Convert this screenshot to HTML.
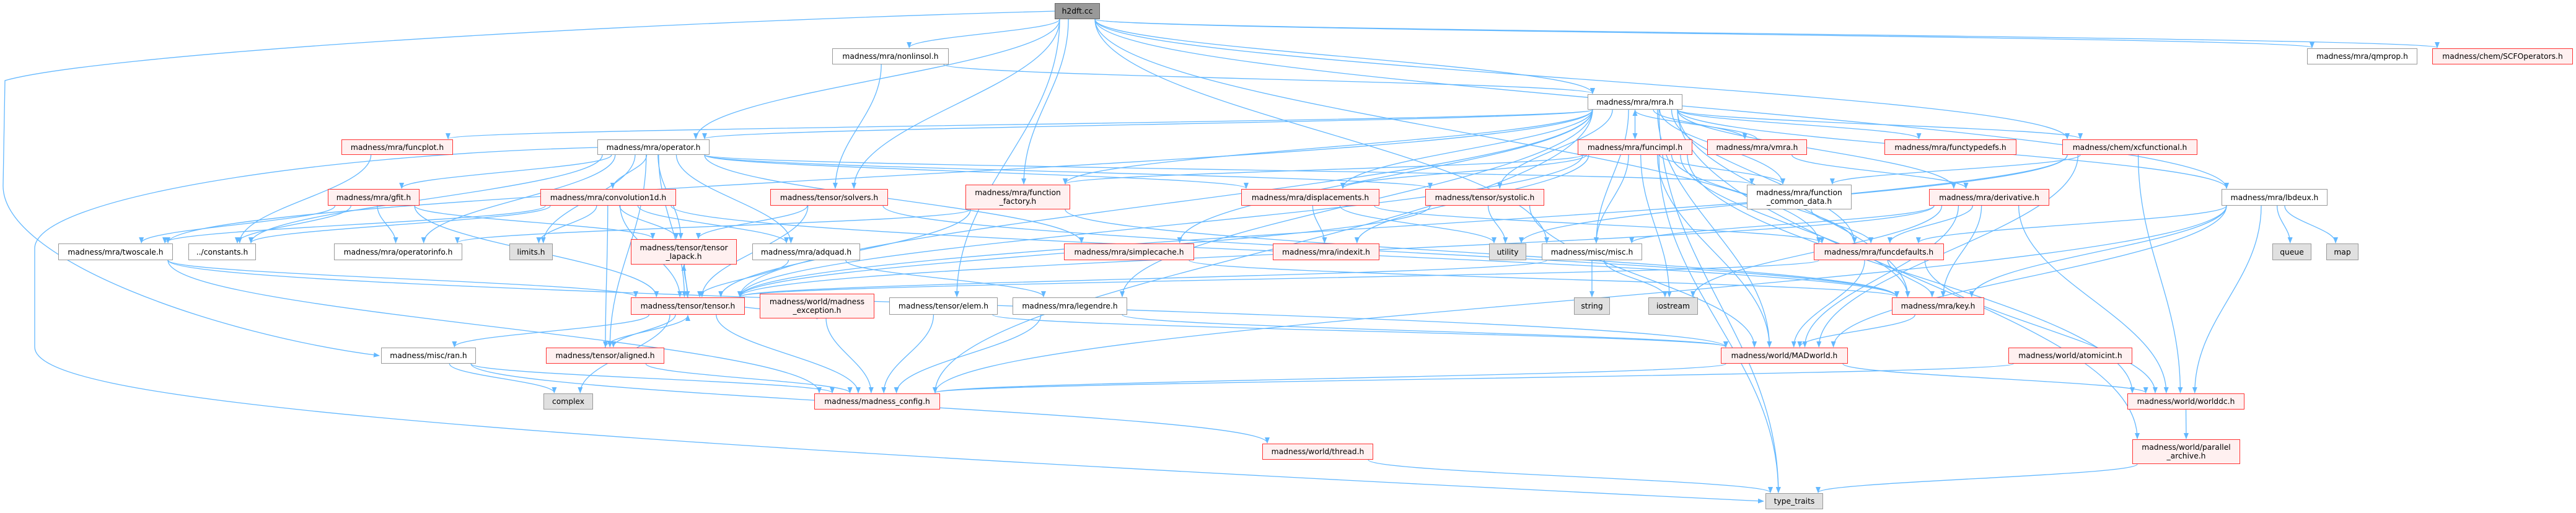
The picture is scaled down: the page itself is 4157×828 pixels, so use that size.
<!DOCTYPE html>
<html><head><meta charset="utf-8">
<style>
html,body{margin:0;padding:0;background:#fff;}
body{width:4157px;height:828px;position:relative;overflow:hidden;font-family:"DejaVu Sans","Liberation Sans",sans-serif;}
svg{position:absolute;left:0;top:0;}
.n{position:absolute;box-sizing:border-box;border:1.5px solid #999;background:#fff;color:#000;font-size:12.3px;display:flex;align-items:center;justify-content:center;text-align:center;line-height:14px;white-space:pre;}
.r{border-color:#f33;background:#fff0f0;}
.g{background:#e0e0e0;border-color:#999;}
.k{background:#999;border-color:#666;}
</style></head><body>
<svg id="s" width="4157" height="828" viewBox="0 0 4157 828">
<defs><marker id="a" markerWidth="10" markerHeight="8" refX="9" refY="4" orient="auto" markerUnits="userSpaceOnUse"><path d="M0,0 L10,4 L0,8 z" fill="#63b8ff"/></marker></defs>
<g id="e" fill="none" stroke="#63b8ff" stroke-width="1.3"></g>
</svg>
<div id="nodes"></div>
<script>
var N={
h2dft:[1702,1775,5,31,"h2dft.cc","k"],
nonlinsol:[1343,1531,78,104,"madness/mra/nonlinsol.h",""],
qmprop:[3723,3901,78,104,"madness/mra/qmprop.h",""],
scf:[3925,4152,78,104,"madness/chem/SCFOperators.h","r"],
mra:[2562,2715,152,177,"madness/mra/mra.h",""],
funcplot:[551,731,225,250,"madness/mra/funcplot.h","r"],
operator:[964,1145,225,250,"madness/mra/operator.h",""],
funcimpl:[2546,2731,225,250,"madness/mra/funcimpl.h","r"],
vmra:[2755,2916,225,250,"madness/mra/vmra.h","r"],
functypedefs:[3041,3254,225,250,"madness/mra/functypedefs.h","r"],
xcf:[3328,3546,225,250,"madness/chem/xcfunctional.h","r"],
gfit:[529,677,305,332,"madness/mra/gfit.h","r"],
conv:[872,1091,305,332,"madness/mra/convolution1d.h","r"],
solvers:[1243,1433,305,332,"madness/tensor/solvers.h","r"],
ff:[1558,1727,298,338,"madness/mra/function\n_factory.h","r"],
disp:[2003,2226,305,332,"madness/mra/displacements.h","r"],
systolic:[2300,2492,305,332,"madness/tensor/systolic.h","r"],
fcd:[2819,2988,298,338,"madness/mra/function\n_common_data.h",""],
deriv:[3113,3307,305,332,"madness/mra/derivative.h","r"],
lbdeux:[3585,3756,305,332,"madness/mra/lbdeux.h",""],
twoscale:[94,279,393,420,"madness/mra/twoscale.h",""],
constants:[304,413,393,420,"../constants.h",""],
opinfo:[539,746,393,420,"madness/mra/operatorinfo.h",""],
limits:[822,892,393,420,"limits.h","g"],
lapack:[1018,1189,386,427,"madness/tensor/tensor\n_lapack.h","r"],
adquad:[1214,1388,393,420,"madness/mra/adquad.h",""],
simplecache:[1717,1927,393,420,"madness/mra/simplecache.h","r"],
indexit:[2054,2226,393,420,"madness/mra/indexit.h","r"],
utility:[2403,2463,393,420,"utility","g"],
misc:[2488,2650,393,420,"madness/misc/misc.h",""],
funcdef:[2927,3137,393,420,"madness/mra/funcdefaults.h","r"],
queue:[3667,3730,393,420,"queue","g"],
map:[3754,3806,393,420,"map","g"],
tensor:[1018,1202,480,508,"madness/tensor/tensor.h","r"],
mexc:[1226,1411,474,514,"madness/world/madness\n_exception.h","r"],
elem:[1435,1610,480,508,"madness/tensor/elem.h",""],
legendre:[1634,1819,480,508,"madness/mra/legendre.h",""],
string:[2540,2598,480,508,"string","g"],
iostream:[2660,2740,480,508,"iostream","g"],
key:[3053,3202,480,508,"madness/mra/key.h","r"],
ran:[615,768,561,587,"madness/misc/ran.h",""],
aligned:[881,1072,561,587,"madness/tensor/aligned.h","r"],
madworld:[2777,2982,561,587,"madness/world/MADworld.h","r"],
atomic:[3241,3441,561,587,"madness/world/atomicint.h","r"],
complex:[877,957,635,661,"complex","g"],
config:[1314,1517,635,661,"madness/madness_config.h","r"],
worlddc:[3433,3622,635,661,"madness/world/worlddc.h","r"],
thread:[2037,2216,716,742,"madness/world/thread.h","r"],
parch:[3441,3615,709,749,"madness/world/parallel\n_archive.h","r"],
type_traits:[2849,2942,796,822,"type_traits","g"]
};
var E=[
["h2dft","nonlinsol"],["h2dft","mra"],["h2dft","qmprop"],["h2dft","scf"],["h2dft","operator"],["h2dft","solvers"],["h2dft","elem"],["h2dft","lbdeux"],["h2dft","misc"],["h2dft","xcf"],["h2dft","ff"],["h2dft","funcdef"],
["nonlinsol","mra"],["nonlinsol","solvers"],
["mra","funcplot"],["mra","operator"],["mra","twoscale"],["mra","ff"],["mra","tensor"],["mra","funcimpl"],["mra","vmra"],["mra","functypedefs"],["mra","xcf"],["mra","deriv"],["mra","lbdeux"],["mra","misc"],["mra","funcdef"],["mra","key"],["mra","legendre"],["mra","parch"],["mra","type_traits"],["mra","madworld"],["mra","fcd"],["mra","config"],["mra","disp"],["mra","systolic"],["mra","simplecache"],
["operator","conv"],["operator","gfit"],["operator","constants"],["operator","opinfo"],["operator","limits"],["operator","lapack"],["operator","adquad"],["operator","simplecache"],["operator","disp"],["operator","systolic"],["operator","fcd"],["operator","aligned"],["operator","tensor"],
["funcplot","constants"],
["gfit","twoscale"],["gfit","constants"],["gfit","opinfo"],["gfit","lapack"],["gfit","tensor"],
["conv","constants"],["conv","limits"],["conv","lapack"],["conv","adquad"],["conv","tensor"],["conv","aligned"],["conv","twoscale"],["conv","key"],
["solvers","lapack"],["solvers","tensor"],["solvers","key"],
["ff","tensor"],["ff","opinfo"],["ff","key"],
["funcimpl","ff"],["funcimpl","disp"],["funcimpl","indexit"],["funcimpl","tensor"],["funcimpl","misc"],["funcimpl","iostream"],["funcimpl","madworld"],["funcimpl","fcd"],["funcimpl","funcdef"],["funcimpl","key"],["funcimpl","type_traits"],["funcimpl","worlddc"],
["vmra","mra"],["vmra","deriv"],
["xcf","fcd"],["xcf","utility"],["xcf","madworld"],["xcf","worlddc"],["xcf","tensor"],
["disp","indexit"],["disp","utility"],["disp","funcdef"],
["systolic","utility"],["systolic","tensor"],["systolic","madworld"],
["fcd","funcdef"],
["deriv","funcdef"],["deriv","key"],["deriv","madworld"],["deriv","worlddc"],["deriv","iostream"],["deriv","misc"],["deriv","tensor"],
["lbdeux","queue"],["lbdeux","map"],["lbdeux","funcdef"],["lbdeux","key"],["lbdeux","worlddc"],["lbdeux","madworld"],["lbdeux","config"],
["twoscale","tensor"],["twoscale","config"],["twoscale","madworld"],
["lapack","tensor"],["adquad","tensor"],["adquad","legendre"],["simplecache","key"],
["misc","string"],["misc","iostream"],["misc","tensor"],
["funcdef","key"],["funcdef","madworld"],["funcdef","worlddc"],["funcdef","tensor"],
["tensor","aligned"],["tensor","ran"],["tensor","complex"],["tensor","config"],["tensor","mexc"],["tensor","lapack"],
["aligned","tensor"],["aligned","config"],
["mexc","config"],["elem","config"],["elem","madworld"],["legendre","config"],["legendre","madworld"],
["ran","complex"],["ran","config"],["ran","thread"],
["madworld","worlddc"],["madworld","config"],["atomic","config"],
["worlddc","parch"],["parch","type_traits"],["thread","type_traits"],["key","madworld"]
];
var html="";
for(var k in N){var v=N[k];html+='<div class="n '+v[5]+'" style="left:'+v[0]+'px;top:'+v[2]+'px;width:'+(v[1]-v[0])+'px;height:'+(v[3]-v[2])+'px">'+v[4].replace(/\n/g,"<br>")+'</div>';}
document.getElementById("nodes").innerHTML=html;
var g=document.getElementById("e"),p="";
E.forEach(function(e){
 var a=N[e[0]],b=N[e[1]];
 var ax=(a[0]+a[1])/2,bx=(b[0]+b[1])/2,sx,sy,tx,ty,d;
 if(Math.abs(a[2]-b[2])<5){
   sy=a[3]; ty=b[3]; sx=ax; tx=bx;
   d="M"+sx+","+sy+" C"+sx+","+(sy+50)+" "+tx+","+(ty+50)+" "+tx+","+(ty+2);
 } else if(b[2]>a[3]){
   sx=Math.max(a[0]+8,Math.min(a[1]-8,ax+(bx-ax)*0.15));
   sy=a[3]; tx=Math.max(b[0]+8,Math.min(b[1]-8,bx+(ax-bx)*0.1)); ty=b[2];
   var dy=ty-sy;
   d="M"+sx+","+sy+" C"+sx+","+(sy+dy*0.4)+" "+tx+","+(ty-dy*0.4)+" "+tx+","+(ty-1);
 } else {
   sx=ax; sy=a[2]; tx=bx; ty=b[3];
   var dy=sy-ty;
   d="M"+sx+","+sy+" C"+sx+","+(sy-dy*0.4)+" "+tx+","+(ty+dy*0.4)+" "+tx+","+(ty+1);
 }
 p+='<path d="'+d+'" marker-end="url(#a)"/>';
});
p+='<path d="M1702,18 C900,40 150,90 8,130 L5,300 C5,420 350,540 612,574" marker-end="url(#a)"/>';
p+='<path d="M964,238 C500,250 60,320 56,400 L56,560 C56,640 600,700 2846,809" marker-end="url(#a)"/>';
g.innerHTML=p;
</script>
</body></html>
